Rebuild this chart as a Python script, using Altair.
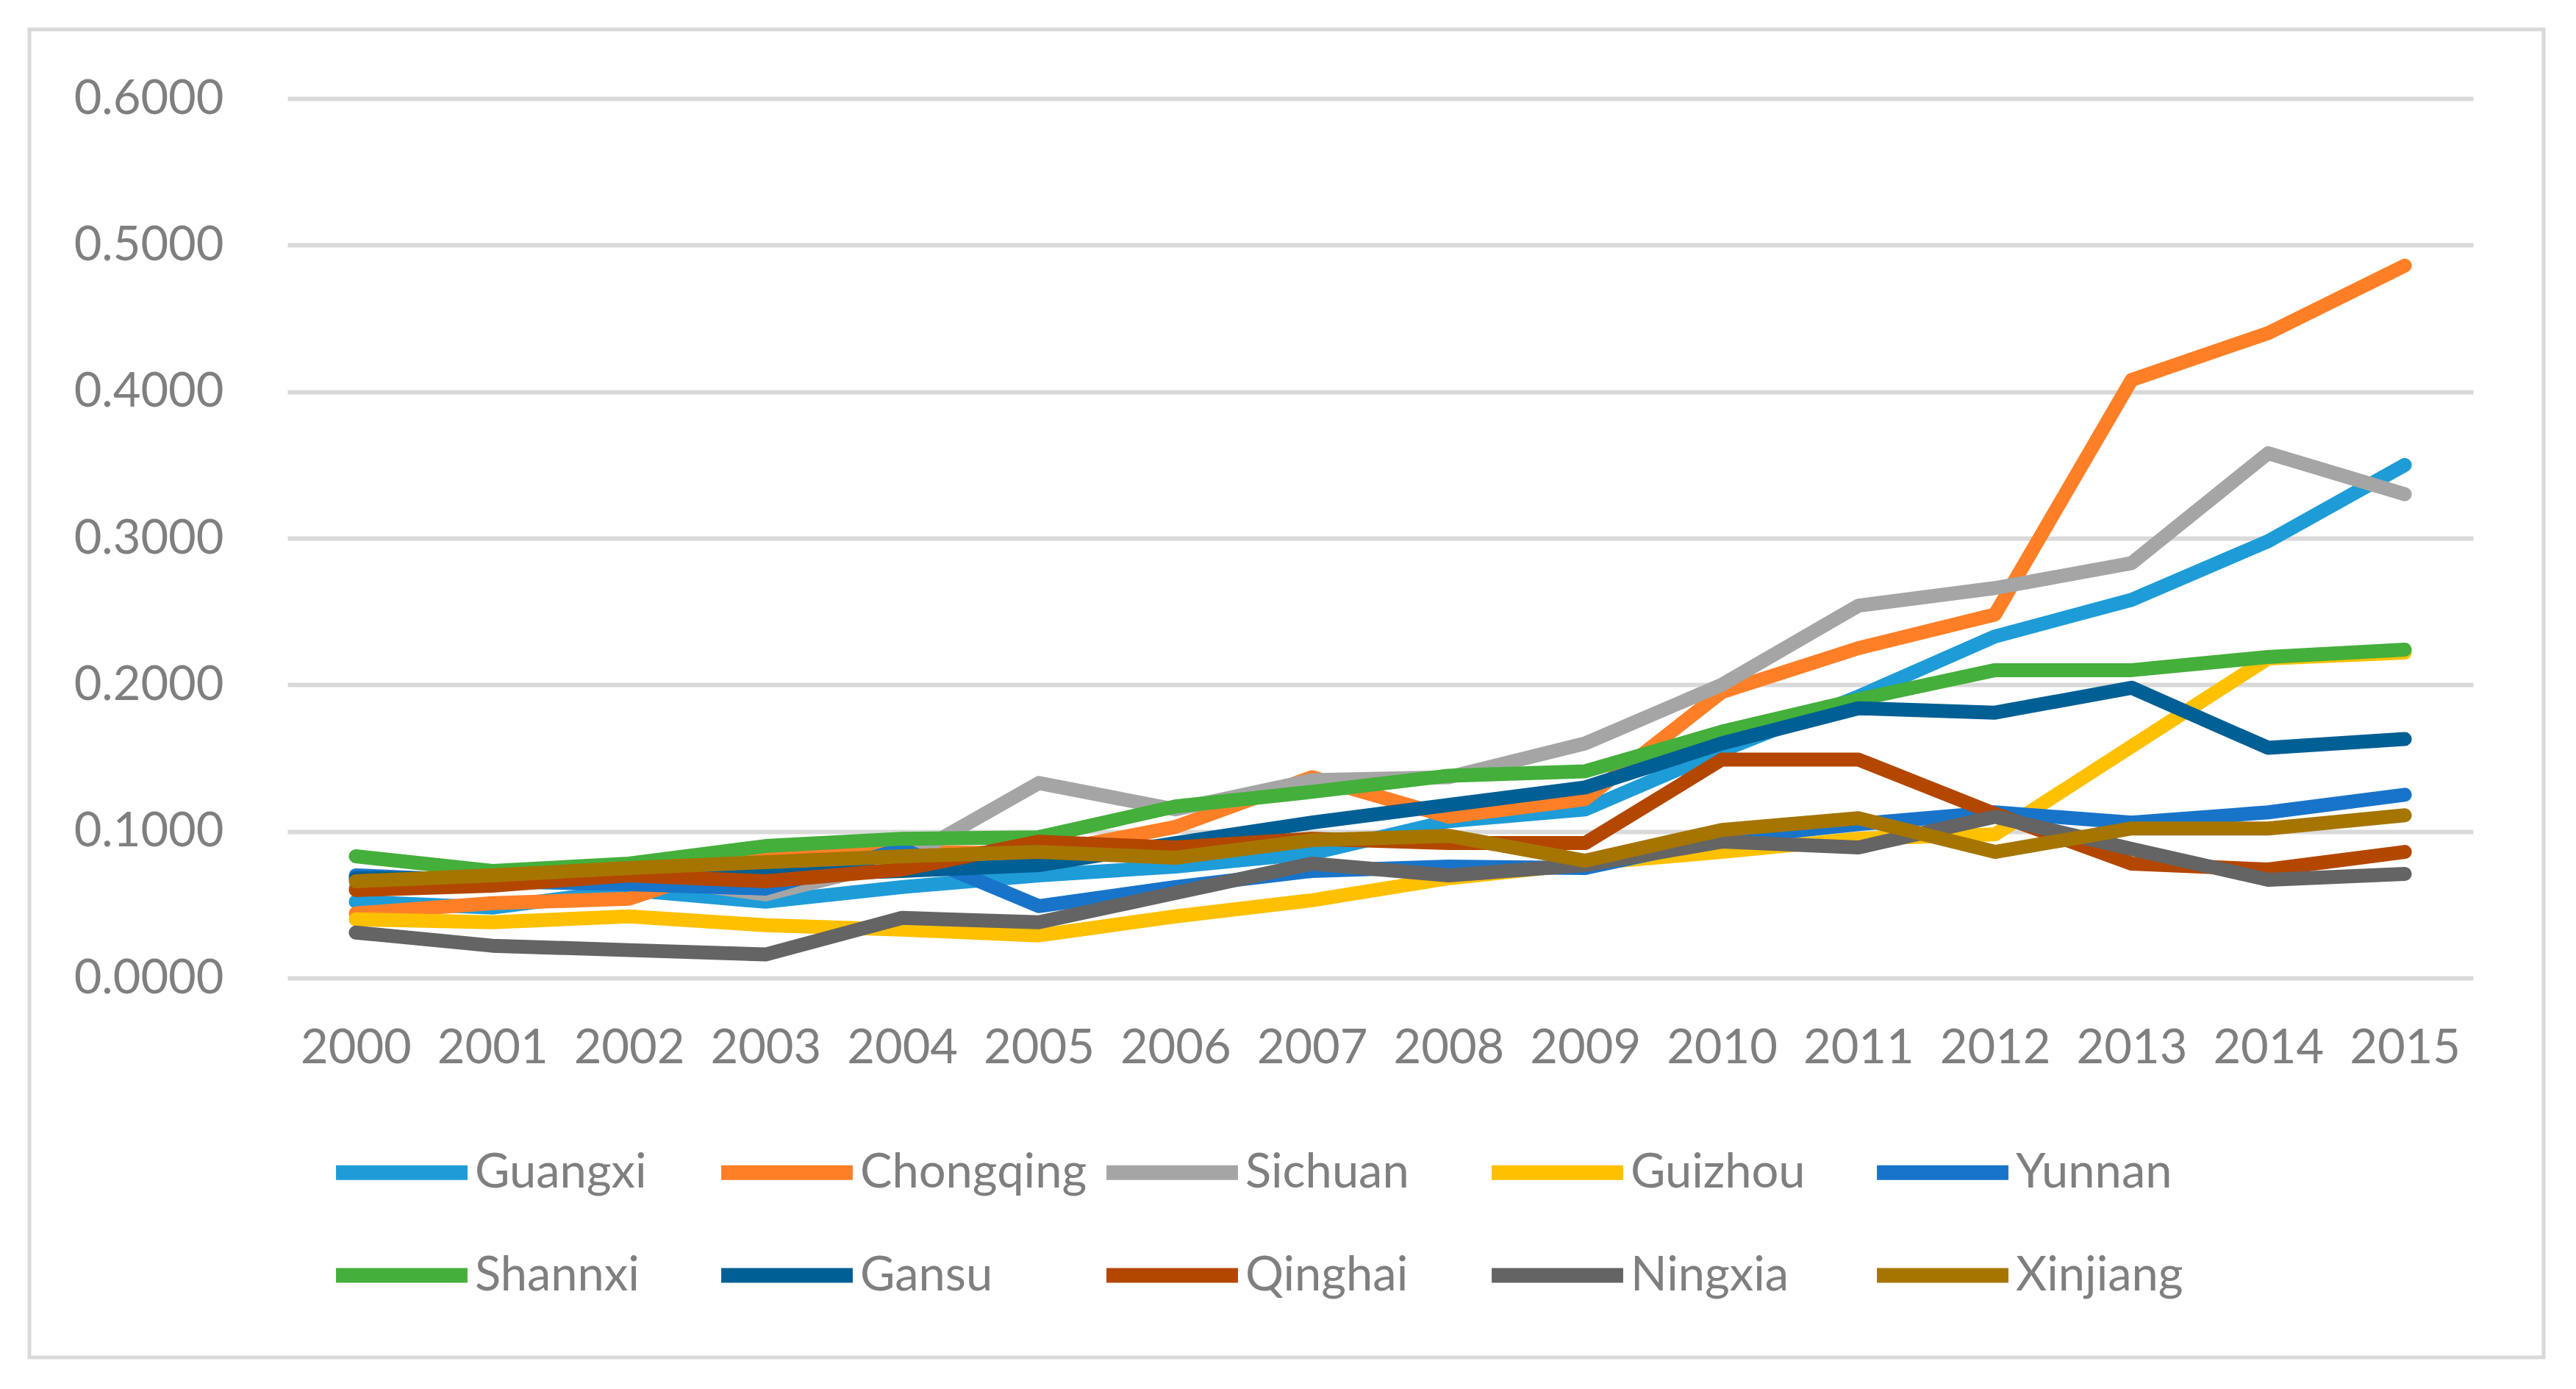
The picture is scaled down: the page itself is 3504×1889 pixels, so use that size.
import altair as alt
import pandas as pd

years = list(range(2000, 2016))
series = ["Guangxi", "Chongqing", "Sichuan", "Guizhou", "Yunnan",
          "Shannxi", "Gansu", "Qinghai", "Ningxia", "Xinjiang"]
colors = ["#1E9CD7", "#FF7F27", "#A5A5A5", "#FFC000", "#1874C9",
          "#44AF3B", "#005F94", "#B34700", "#646464", "#A57500"]

guangxi   = [0.052, 0.048, 0.060, 0.052, 0.062, 0.070, 0.076, 0.085, 0.107, 0.115, 0.155, 0.192, 0.233, 0.258, 0.298, 0.350]
chongqing = [0.044, 0.051, 0.054, 0.085, 0.086, 0.085, 0.103, 0.137, 0.110, 0.122, 0.195, 0.225, 0.248, 0.408, 0.440, 0.486]
sichuan   = [0.062, 0.066, 0.070, 0.057, 0.080, 0.133, 0.115, 0.135, 0.137, 0.160, 0.200, 0.254, 0.266, 0.283, 0.358, 0.330]
guizhou   = [0.040, 0.038, 0.042, 0.036, 0.033, 0.029, 0.042, 0.053, 0.068, 0.078, 0.086, 0.095, 0.098, 0.158, 0.218, 0.222]
yunnan    = [0.070, 0.066, 0.064, 0.061, 0.088, 0.049, 0.062, 0.073, 0.076, 0.075, 0.095, 0.105, 0.113, 0.106, 0.113, 0.125]
shannxi   = [0.083, 0.073, 0.078, 0.090, 0.095, 0.096, 0.117, 0.127, 0.138, 0.141, 0.168, 0.190, 0.210, 0.210, 0.219, 0.224]
gansu     = [0.068, 0.068, 0.072, 0.070, 0.073, 0.077, 0.092, 0.106, 0.118, 0.130, 0.160, 0.184, 0.181, 0.198, 0.157, 0.163]
qinghai   = [0.060, 0.063, 0.070, 0.066, 0.074, 0.093, 0.089, 0.095, 0.092, 0.092, 0.149, 0.149, 0.112, 0.078, 0.074, 0.086]
ningxia   = [0.031, 0.022, 0.019, 0.016, 0.041, 0.038, 0.058, 0.078, 0.070, 0.077, 0.093, 0.089, 0.110, 0.088, 0.067, 0.071]
xinjiang  = [0.066, 0.070, 0.075, 0.079, 0.083, 0.086, 0.082, 0.094, 0.097, 0.080, 0.101, 0.109, 0.086, 0.102, 0.102, 0.111]

values = [guangxi, chongqing, sichuan, guizhou, yunnan,
          shannxi, gansu, qinghai, ningxia, xinjiang]

rows = []
for i, (name, vals) in enumerate(zip(series, values)):
    for y, v in zip(years, vals):
        rows.append({"Region": name, "Year": str(y), "Value": v, "order": i})
df = pd.DataFrame(rows)

FONT = "Lato"
TXT = "#7F7F7F"

lines = alt.Chart(df).mark_line(strokeWidth=19, strokeCap="round", strokeJoin="round").encode(
    x=alt.X("Year:O", title=None,
            scale=alt.Scale(padding=0.5),
            axis=alt.Axis(labelAngle=0, ticks=False, domain=False, grid=False,
                          labelPadding=64, labelFontSize=65, labelColor=TXT, labelFont=FONT)),
    y=alt.Y("Value:Q", title=None,
            scale=alt.Scale(domain=[0, 0.6], nice=False),
            axis=alt.Axis(values=[0, 0.1, 0.2, 0.3, 0.4, 0.5, 0.6], format=".4f",
                          ticks=False, domain=False, gridColor="#D9D9D9", gridWidth=6,
                          labelLimit=500,
                          labelPadding=87, labelFontSize=65, labelColor=TXT, labelFont=FONT)),
    color=alt.Color("Region:N", sort=series,
                    scale=alt.Scale(domain=series, range=colors),
                    legend=alt.Legend(orient="none", legendX=56, legendY=1361, title=None,
                                      columns=5, direction="horizontal",
                                      symbolType="stroke", symbolSize=32000, symbolStrokeWidth=20,
                                      labelFontSize=65, labelColor=TXT, labelFont=FONT,
                                      labelOffset=0, labelLimit=600, gridAlign="all",
                                      columnPadding=-14, rowPadding=-44, padding=0)),
    order=alt.Order("order:Q"),
)

border_df = pd.DataFrame({"k": [0]})
border = alt.Chart(border_df).mark_rect(fillOpacity=0, stroke="#D9D9D9", strokeWidth=5).encode(
    x=alt.value(-351), x2=alt.value(3069), y=alt.value(-94), y2=alt.value(1712)
)

chart = alt.layer(border, lines).properties(
    width=2973, height=1196,
    background="white",
    autosize=alt.AutoSizeParams(type="none"),
    padding={"left": 383, "top": 126, "right": 120, "bottom": 540},
).configure_view(strokeWidth=0, stroke="transparent")

chart.save("out.html", embed_options={"renderer": "svg", "actions": False})
